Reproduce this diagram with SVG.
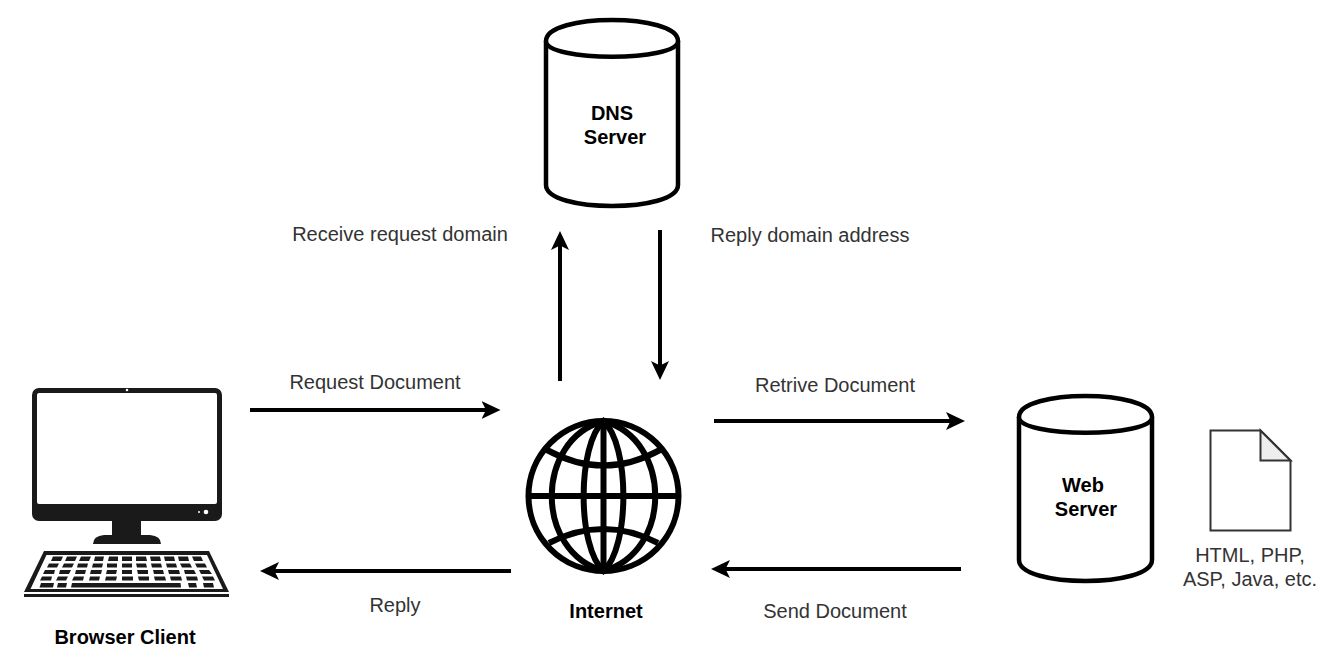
<svg xmlns="http://www.w3.org/2000/svg" width="1320" height="650" viewBox="0 0 1320 650">
<style>
text{font-family:"Liberation Sans",Arial,sans-serif;font-size:20px;fill:#333}
.b{font-weight:700;fill:#000}
.cyl{fill:#fff;stroke:#000;stroke-width:4.5}
.arr{fill:none;stroke:#000;stroke-width:4;marker-end:url(#ah)}
.g{fill:none;stroke:#000;stroke-width:6}
.k{fill:#1a1a1a}
</style>
<defs><marker id="ah" markerUnits="userSpaceOnUse" markerWidth="20" markerHeight="18" refX="5" refY="9" orient="auto"><path d="M0,0L19,9L0,18L4.500,9Z" fill="#000"/></marker></defs>
<rect width="1320" height="650" fill="#fff"/>
<g id="connectors">
<path class="arr" d="M250,410H486.500"/>
<path class="arr" d="M511,571H274"/>
<path class="arr" d="M560,381V245"/>
<path class="arr" d="M660,230V366"/>
<path class="arr" d="M714,421H951"/>
<path class="arr" d="M961,569H725"/>
</g>
<g id="dns-server">
<path class="cyl" d="M546,41C546,13 678,13 678,41V185C678,213 546,213 546,185Z"/>
<path class="cyl" d="M546,41C546,62 678,62 678,41"/>
<text class="b" x="612" y="120" text-anchor="middle">DNS</text>
<text class="b" x="615" y="144" text-anchor="middle">Server</text>
</g>
<g id="web-server">
<path class="cyl" d="M1019,417C1019,389 1152,389 1152,417V560C1152,588 1019,588 1019,560Z"/>
<path class="cyl" d="M1019,417C1019,438 1152,438 1152,417"/>
<text class="b" x="1083" y="492" text-anchor="middle">Web</text>
<text class="b" x="1086" y="516" text-anchor="middle">Server</text>
</g>
<g id="document">
<path d="M1210.500,430.500H1260.500L1290.500,460.500V530.500H1210.500Z" fill="#fff" stroke="#333" stroke-width="2"/>
<path d="M1260.500,430.500L1290.500,460.500H1260.500Z" fill="#eee" stroke="#333" stroke-width="2"/>
<text x="1250" y="562" text-anchor="middle">HTML, PHP,</text>
<text x="1250" y="586" text-anchor="middle">ASP, Java, etc.</text>
</g>
<g id="internet">
<circle class="g" cx="603.500" cy="496" r="75"/>
<path class="g" d="M603.500,421C577,445 577,547 603.500,571C630,547 630,445 603.500,421Z"/>
<path class="g" d="M603.500,421C534.500,440 534.500,552 603.500,571C672.500,552 672.500,440 603.500,421Z"/>
<path class="g" d="M603.500,421V571M528,496H679M547,450Q603.500,481 660,450M549,543Q603.500,515 658,543"/>
<text class="b" x="606" y="618" text-anchor="middle">Internet</text>
</g>
<g id="browser-client">
<rect x="32" y="388" width="190" height="133" rx="7" fill="#1a1a1a"/>
<rect x="37" y="393" width="180" height="111" rx="2" fill="#fff"/>
<circle cx="127" cy="390" r="1.300" fill="#fff"/>
<circle cx="206" cy="512" r="2.300" fill="#fff"/>
<circle cx="199" cy="512" r="1" fill="#fff"/>
<path class="k" d="M112,521H141V535H150Q161,536 161,544H93Q93,536 104,535H112Z"/>
<path class="k" d="M44,551H209L229,592H24Z"/>
<path class="k" d="M24,594H229V597H24Z"/>
<path fill="#fff" d="M46.500,555H207L223,589H30.500Z"/>
<path class="k" d="M53,556.500H63L61,561H51ZM67,556.500H77L75,561H65ZM81,556.500H91L89,561H79ZM95,556.500H104L103,561H94ZM109,556.500H118L118,561H108ZM122,556.500H132L132,561H122ZM136,556.500H146L147,561H136ZM150,556.500H160L161,561H151ZM164,556.500H174L175,561H165ZM178,556.500H188L189,561H179ZM192,556.500H201L203,561H194Z"/>
<path class="k" d="M49,563.500H59L57,567.500H47ZM64,563.500H74L72,567.500H62ZM78,563.500H88L87,567.500H77ZM93,563.500H103L102,567.500H92ZM107,563.500H117L117,567.500H107ZM122,563.500H132L132,567.500H122ZM136,563.500H146L147,567.500H137ZM151,563.500H161L162,567.500H152ZM166,563.500H176L177,567.500H167ZM180,563.500H190L192,567.500H182ZM195,563.500H205L207,567.500H197Z"/>
<path class="k" d="M45,570H55L54,574H43ZM60,570H71L69,574H59ZM76,570H86L85,574H75ZM91,570H102L101,574H90ZM107,570H117L116,574H106ZM122,570H132L132,574H122ZM137,570H148L148,574H138ZM153,570H163L164,574H154ZM168,570H179L180,574H169ZM184,570H194L196,574H185ZM199,570H209L212,574H201Z"/>
<path class="k" d="M42,576.500H52L51,580.500H40ZM58,576.500H68L66,580.500H56ZM74,576.500H84L83,580.500H72ZM90,576.500H100L99,580.500H89ZM106,576.500H117L116,580.500H105ZM122,576.500H133L133,580.500H122ZM138,576.500H149L149,580.500H139ZM154,576.500H165L166,580.500H155ZM170,576.500H181L182,580.500H171ZM186,576.500H197L198,580.500H187ZM202,576.500H213L215,580.500H204Z"/>
<path class="k" d="M41,583H54L53,587.500H39.500ZM58,583H67L66,587.500H57ZM72,583H180.500L181,587.500H71ZM188,583H196L197,587.500H189ZM203,583H213L214,587.500H204Z"/>
<text class="b" x="125" y="644" text-anchor="middle">Browser Client</text>
</g>
<g id="labels">
<text x="400" y="241" text-anchor="middle">Receive request domain</text>
<text x="810" y="242" text-anchor="middle">Reply domain address</text>
<text x="375" y="389" text-anchor="middle">Request Document</text>
<text x="835" y="392" text-anchor="middle">Retrive Document</text>
<text x="395" y="612" text-anchor="middle">Reply</text>
<text x="835" y="618" text-anchor="middle">Send Document</text>
</g>
</svg>
